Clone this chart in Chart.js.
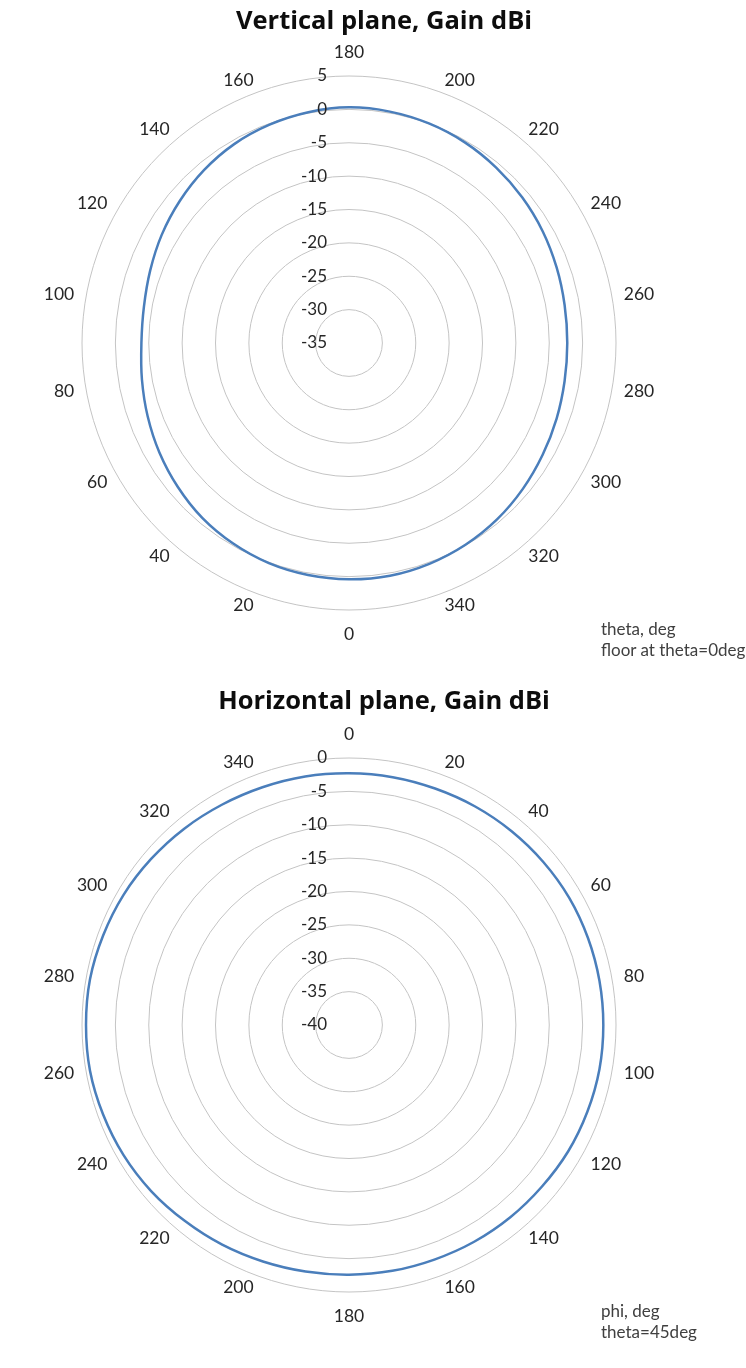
<!DOCTYPE html>
<html>
<head>
<meta charset="utf-8">
<title>Gain patterns</title>
<script src="https://cdn.jsdelivr.net/npm/chart.js@4.4.1/dist/chart.umd.min.js"></script>
<style>
  body { margin: 0; background: #fff; font-family: Lato, sans-serif; }
  #page { position: relative; width: 746px; height: 1368px; overflow: hidden; }
  .box { position: absolute; left: 0; width: 746px; }
  .title { position: absolute; left: 0; width: 768px; text-align: center; font-family: 'Open Sans', sans-serif;
           font-weight: bold; font-size: 25.5px; line-height: 30px; color: #0d0d0d; white-space: nowrap; }
  .note { position: absolute; left: 601px; font-size: 17px; line-height: 21px; color: #404040; white-space: nowrap; }
</style>
</head>
<body>
<div id="page">
  <div class="box" style="top:0;height:681px"><canvas id="vertChart"></canvas></div>
  <div class="box" style="top:681px;height:687px"><canvas id="horizChart"></canvas></div>

  <div class="title" style="top:4px">Vertical plane, Gain dBi</div>
  <div class="title" style="top:684px">Horizontal plane, Gain dBi</div>

  <div class="note" style="top:618px">theta, deg<br>floor at theta=0deg</div>
  <div class="note" style="top:1300px">phi, deg<br>theta=45deg</div>
</div>

<script>
// vertical plane: theta, starting at the top (180) and going clockwise
const vertAngles = [180, 190, 200, 210, 220, 230, 240, 250, 260, 270, 280, 290, 300, 310, 320, 330, 340, 350,
                    0, 10, 20, 30, 40, 50, 60, 70, 80, 90, 100, 110, 120, 130, 140, 150, 160, 170];
const vertGain = [0.3, 0.2, 0.0, -0.3, -0.7, -1.1, -1.5, -1.9, -2.2, -2.3, -2.2, -1.9, -1.5, -1.0, -0.5, -0.1, 0.2, 0.4,
                  0.4, 0.3, 0.1, -0.3, -0.8, -1.5, -2.2, -2.9, -3.5, -3.9, -3.8, -3.3, -2.6, -1.9, -1.2, -0.6, -0.2, 0.1];
const vertRange = [-35, 5];

// horizontal plane: phi, starting at the top (0)
const horizAngles = [0, 10, 20, 30, 40, 50, 60, 70, 80, 90, 100, 110, 120, 130, 140, 150, 160, 170,
                     180, 190, 200, 210, 220, 230, 240, 250, 260, 270, 280, 290, 300, 310, 320, 330, 340, 350];
const horizGain = [-2.3, -2.3, -2.3, -2.2, -2.1, -2.0, -1.9, -1.9, -1.9, -1.9, -1.9, -2.0, -2.1, -2.3, -2.4, -2.5, -2.6, -2.6,
                   -2.6, -2.5, -2.3, -2.0, -1.7, -1.3, -1.0, -0.8, -0.6, -0.6, -0.6, -0.8, -1.0, -1.3, -1.6, -1.9, -2.1, -2.2];
const horizRange = [-40, 0];

const tickStep = 5;

Chart.defaults.font.family = 'Lato';
Chart.defaults.color = '#262626';

// value labels next to the rings, right aligned left of the vertical axis
const ringLabels = {
  id: 'ringLabels',
  afterDatasetsDraw(chart) {
    const r = chart.scales.r;
    const ctx = chart.ctx;
    ctx.save();
    ctx.font = '17px Lato';
    ctx.fillStyle = '#262626';
    ctx.textAlign = 'right';
    ctx.textBaseline = 'middle';
    r.ticks.forEach(t => {
      const y = r.yCenter - r.getDistanceFromCenterForValue(t.value);
      ctx.fillText(String(t.value), r.xCenter - 22, y);
    });
    ctx.restore();
  }
};

// angle labels every 20 deg, placed like excel does (box vertically centred on the spoke)
const angleLabels = {
  id: 'angleLabels',
  afterDraw(chart) {
    const r = chart.scales.r;
    const ctx = chart.ctx;
    ctx.save();
    ctx.font = '17.5px Lato';
    ctx.fillStyle = '#262626';
    ctx.textBaseline = 'middle';
    chart.data.labels.forEach((lab, i) => {
      if (i % 2) return;
      const pole = i % 18 === 0;
      const p = r.getPointPosition(i, r.drawingArea + (pole ? 24 : 12));
      const s = Math.sin(r.getIndexAngle(i));
      ctx.textAlign = pole ? 'center' : (s > 0 ? 'left' : 'right');
      ctx.fillText(lab, p.x, p.y);
    });
    ctx.restore();
  }
};

function makeChart(id, angles, gain, range, pad) {
  return new Chart(document.getElementById(id), {
    type: 'radar',
    data: {
      labels: angles.map(String),
      datasets: [{
        data: gain,
        borderColor: '#4a7ebb',
        borderWidth: 2.5,
        pointRadius: 0,
        tension: 0.35,
        fill: false
      }]
    },
    options: {
      responsive: true,
      maintainAspectRatio: false,
      animation: false,
      layout: { padding: pad },
      plugins: { legend: { display: false }, tooltip: { enabled: false } },
      scales: {
        r: {
          min: range[0],
          max: range[1],
          ticks: { stepSize: tickStep, display: false },
          grid: { circular: true, color: '#c4c4c4', lineWidth: 1 },
          angleLines: { display: false },
          pointLabels: { display: false }
        }
      }
    },
    plugins: [ringLabels, angleLabels]
  });
}

makeChart('vertChart', vertAngles, vertGain, vertRange, { left: 82, right: 129, top: 76, bottom: 70 });
makeChart('horizChart', horizAngles, horizGain, horizRange, { left: 82, right: 129, top: 77, bottom: 75 });
</script>
</body>
</html>
